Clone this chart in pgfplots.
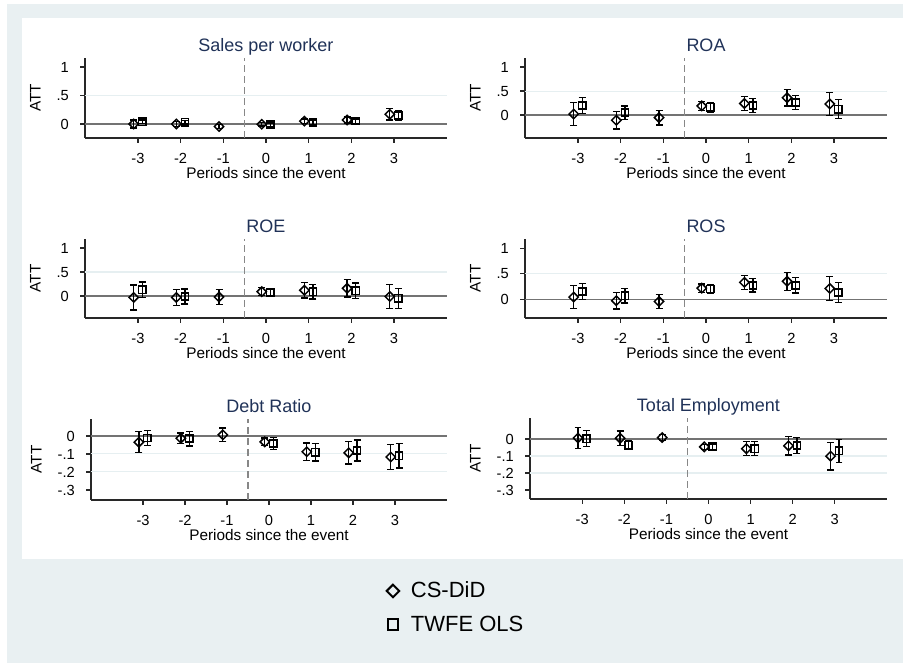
\documentclass[border=0pt]{standalone}
\usepackage{fontspec}
\setmainfont{Liberation Sans}
\usepackage{pgfplots}
\pgfplotsset{compat=1.18}
\definecolor{bgc}{RGB}{233,240,242}
\definecolor{gridc}{RGB}{230,239,241}
\definecolor{titc}{RGB}{32,50,88}
\definecolor{zeroc}{RGB}{115,115,115}
\definecolor{vlc}{RGB}{135,135,135}
\definecolor{axc}{RGB}{40,40,40}

\pgfdeclareplotmark{sdiamond}{%
  \pgfpathmoveto{\pgfqpoint{0pt}{\pgfplotmarksize}}%
  \pgfpathlineto{\pgfqpoint{\pgfplotmarksize}{0pt}}%
  \pgfpathlineto{\pgfqpoint{0pt}{-\pgfplotmarksize}}%
  \pgfpathlineto{\pgfqpoint{-\pgfplotmarksize}{0pt}}%
  \pgfpathclose
  \pgfusepathqstroke
}
\newcommand\ticksz{\fontsize{11}{13}\selectfont}
\newcommand\labsz{\fontsize{11.5}{13}\selectfont}
\newcommand\titsz{\fontsize{13.5}{16}\selectfont}

\pgfplotsset{
  panel/.style={
    scale only axis, anchor=south west,
    xmin=-4.24, xmax=4.24,
    axis lines*=left,
    axis line style={draw=axc, line width=0.9pt},
    tick style={draw=axc, line width=0.9pt},
    tick align=outside, major tick length=3.75pt,
    xtick={-3,-2,-1,0,1,2,3}, xticklabels={-3,-2,-1,0,1,2,3},
    xticklabel style={font=\ticksz, anchor=base, inner sep=0pt, yshift=-15.5pt},
    yticklabel style={font=\ticksz, anchor=east, inner sep=0pt, text height=7.9pt, text depth=0pt, xshift=-8.25pt},
    every axis title/.style={at={(axis description cs:0.5,1)}, anchor=base, yshift=4.9pt, font=\titsz, text=titc},
    every axis x label/.style={at={(axis description cs:0.5,0)}, anchor=base, inner sep=0pt, yshift=-30.4pt, font=\labsz},
    ylabel style={font=\labsz},
    ylabel shift=8.4pt,
    xlabel={Periods since the event}, ylabel={ATT},
    clip=false,
  },
  cs/.style={black, only marks, mark=sdiamond, mark size=3.5pt, mark options={line width=1.1pt, black, solid},
     error bars/.cd, y dir=both, y explicit, error bar style={line width=1pt, black},
     error mark options={rotate=90, mark size=2.6pt, line width=1pt, black}},
  tw/.style={black, only marks, mark=square, mark size=2.7pt, mark options={line width=1.1pt, black, solid},
     error bars/.cd, y dir=both, y explicit, error bar style={line width=1pt, black},
     error mark options={rotate=90, mark size=2.6pt, line width=1pt, black}},
  gl/.style={gridc, line width=0.8pt, forget plot},
  zl/.style={zeroc, line width=0.9pt, forget plot},
  vl/.style={vlc, line width=1pt, dash pattern=on 5.25pt off 3pt, forget plot},
}

\begin{document}
\begin{tikzpicture}
\fill[white] (0pt,0pt) rectangle (677.25pt,497.25pt);
\fill[bgc] (5.25pt,0pt) rectangle (677.25pt,494.25pt);
\fill[white] (16.5pt,78pt) rectangle (677.25pt,483.75pt);

% ---------- Sales per worker ----------
\begin{axis}[panel, at={(63.75pt,393.75pt)}, width=271.5pt, height=60pt,
  ymin=-0.246, ymax=1.158, ytick={0,0.5,1}, yticklabels={0,.5,1}, title={Sales per worker}]
\addplot[gl] coordinates {(-4.24,0.5) (4.24,0.5)};
\addplot[zl] coordinates {(-4.24,0) (4.24,0)};
\addplot[vl] coordinates {(-0.5,-0.246) (-0.5,1.158)};
\addplot[cs] coordinates {
 (-3.1,0.000) +- (0,0.07)
 (-2.1,0.000) +- (0,0.04)
 (-1.1,-0.045) +- (0,0.04)
 (-0.1,-0.005) +- (0,0.03)
 (0.9,0.05) +- (0,0.04)
 (1.9,0.07) +- (0,0.05)
 (2.9,0.17) +- (0,0.10)
};
\addplot[tw] coordinates {
 (-2.9,0.04) +- (0,0.03)
 (-1.9,0.03) +- (0,0.03)
 (0.1,-0.01) +- (0,0.03)
 (1.1,0.025) +- (0,0.035)
 (2.1,0.05) +- (0,0.04)
 (3.1,0.15) +- (0,0.08)
};
\end{axis}

% ---------- ROA ----------
\begin{axis}[panel, at={(393.75pt,393.75pt)}, width=271.5pt, height=60pt,
  ymin=-0.48, ymax=1.19, ytick={0,0.5,1}, yticklabels={0,.5,1}, title={ROA}]
\addplot[gl] coordinates {(-4.24,0.5) (4.24,0.5)};
\addplot[zl] coordinates {(-4.24,0) (4.24,0)};
\addplot[vl] coordinates {(-0.5,-0.48) (-0.5,1.19)};
\addplot[cs] coordinates {
 (-3.1,0.02) +- (0,0.235)
 (-2.1,-0.11) +- (0,0.18)
 (-1.1,-0.055) +- (0,0.155)
 (-0.1,0.19) +- (0,0.095)
 (0.9,0.24) +- (0,0.14)
 (1.9,0.36) +- (0,0.17)
 (2.9,0.23) +- (0,0.24)
};
\addplot[tw] coordinates {
 (-2.9,0.20) +- (0,0.17)
 (-1.9,0.05) +- (0,0.14)
 (0.1,0.16) +- (0,0.10)
 (1.1,0.20) +- (0,0.15)
 (2.1,0.26) +- (0,0.15)
 (3.1,0.12) +- (0,0.20)
};
\end{axis}

% ---------- ROE ----------
\begin{axis}[panel, at={(63.75pt,258.75pt)}, width=271.5pt, height=59.25pt,
  ymin=-0.46, ymax=1.19, ytick={0,0.5,1}, yticklabels={0,.5,1}, title={ROE}]
\addplot[gl] coordinates {(-4.24,0.5) (4.24,0.5)};
\addplot[zl] coordinates {(-4.24,0) (4.24,0)};
\addplot[vl] coordinates {(-0.5,-0.46) (-0.5,1.19)};
\addplot[cs] coordinates {
 (-3.1,-0.03) +- (0,0.26)
 (-2.1,-0.03) +- (0,0.17)
 (-1.1,-0.02) +- (0,0.16)
 (-0.1,0.09) +- (0,0.08)
 (0.9,0.12) +- (0,0.165)
 (1.9,0.16) +- (0,0.185)
 (2.9,-0.01) +- (0,0.25)
};
\addplot[tw] coordinates {
 (-2.9,0.13) +- (0,0.165)
 (-1.9,-0.01) +- (0,0.155)
 (0.1,0.07) +- (0,0.085)
 (1.1,0.09) +- (0,0.15)
 (2.1,0.11) +- (0,0.16)
 (3.1,-0.05) +- (0,0.21)
};
\end{axis}

% ---------- ROS ----------
\begin{axis}[panel, at={(393.75pt,258.75pt)}, width=271.5pt, height=59.25pt,
  ymin=-0.37, ymax=1.18, ytick={0,0.5,1}, yticklabels={0,.5,1}, title={ROS}]
\addplot[gl] coordinates {(-4.24,0.5) (4.24,0.5)};
\addplot[zl] coordinates {(-4.24,0) (4.24,0)};
\addplot[vl] coordinates {(-0.5,-0.37) (-0.5,1.18)};
\addplot[cs] coordinates {
 (-3.1,0.04) +- (0,0.225)
 (-2.1,-0.03) +- (0,0.165)
 (-1.1,-0.045) +- (0,0.135)
 (-0.1,0.215) +- (0,0.085)
 (0.9,0.33) +- (0,0.14)
 (1.9,0.35) +- (0,0.175)
 (2.9,0.21) +- (0,0.235)
};
\addplot[tw] coordinates {
 (-2.9,0.15) +- (0,0.16)
 (-1.9,0.065) +- (0,0.14)
 (0.1,0.20) +- (0,0.09)
 (1.1,0.27) +- (0,0.13)
 (2.1,0.27) +- (0,0.15)
 (3.1,0.13) +- (0,0.195)
};
\end{axis}

% ---------- Debt Ratio ----------
\begin{axis}[panel, at={(68.25pt,122.25pt)}, width=267pt, height=60.75pt,
  ymin=-0.356, ymax=0.094, ytick={-0.3,-0.2,-0.1,0}, yticklabels={-.3,-.2,-.1,0}, title={Debt Ratio}]
\addplot[gl] coordinates {(-4.24,-0.1) (4.24,-0.1)};
\addplot[gl] coordinates {(-4.24,-0.2) (4.24,-0.2)};
\addplot[zl] coordinates {(-4.24,0) (4.24,0)};
\addplot[vl] coordinates {(-0.5,-0.356) (-0.5,0.094)};
\addplot[cs] coordinates {
 (-3.1,-0.035) +- (0,0.058)
 (-2.1,-0.013) +- (0,0.030)
 (-1.1,0.006) +- (0,0.038)
 (-0.1,-0.033) +- (0,0.022)
 (0.9,-0.088) +- (0,0.049)
 (1.9,-0.094) +- (0,0.062)
 (2.9,-0.117) +- (0,0.071)
};
\addplot[tw] coordinates {
 (-2.9,-0.012) +- (0,0.043)
 (-1.9,-0.015) +- (0,0.041)
 (0.1,-0.042) +- (0,0.032)
 (1.1,-0.091) +- (0,0.048)
 (2.1,-0.081) +- (0,0.058)
 (3.1,-0.110) +- (0,0.068)
};
\end{axis}

% ---------- Total Employment ----------
\begin{axis}[panel, at={(397.5pt,123pt)}, width=267.75pt, height=60.75pt,
  ymin=-0.353, ymax=0.124, ytick={-0.3,-0.2,-0.1,0}, yticklabels={-.3,-.2,-.1,0}, title={Total Employment}]
\addplot[gl] coordinates {(-4.24,-0.1) (4.24,-0.1)};
\addplot[gl] coordinates {(-4.24,-0.2) (4.24,-0.2)};
\addplot[zl] coordinates {(-4.24,0) (4.24,0)};
\addplot[vl] coordinates {(-0.5,-0.353) (-0.5,0.124)};
\addplot[cs] coordinates {
 (-3.1,0.006) +- (0,0.061)
 (-2.1,0.005) +- (0,0.042)
 (-1.1,0.009) +- (0,0.018)
 (-0.1,-0.046) +- (0,0.015)
 (0.9,-0.057) +- (0,0.041)
 (1.9,-0.040) +- (0,0.054)
 (2.9,-0.101) +- (0,0.081)
};
\addplot[tw] coordinates {
 (-2.9,0.002) +- (0,0.047)
 (-1.9,-0.037) +- (0,0.025)
 (0.1,-0.045) +- (0,0.016)
 (1.1,-0.057) +- (0,0.041)
 (2.1,-0.038) +- (0,0.049)
 (3.1,-0.069) +- (0,0.068)
};
\end{axis}

% ---------- Legend ----------
\begin{axis}[at={(290pt,60.75pt)}, anchor=center, scale only axis, width=2pt, height=2pt,
  hide axis, xmin=0, xmax=1, ymin=0, ymax=1,
  legend style={at={(0.5,0.5)}, anchor=north west, draw=none, fill=none, inner sep=0pt, outer sep=0pt,
    font=\fontsize{16.5}{18}\selectfont, row sep=12.1pt, column sep=8.8pt, nodes={inner sep=0pt}},
  legend cell align=left,
  legend image code/.code={\draw[#1] plot coordinates {(0pt,0pt)};}]
\addlegendimage{only marks, mark=sdiamond, mark size=4.7pt, mark options={line width=1.5pt, black}}
\addlegendentry{CS-DiD}
\addlegendimage{only marks, mark=square, mark size=4pt, mark options={line width=1.5pt, black}}
\addlegendentry{TWFE OLS}
\end{axis}
\end{tikzpicture}
\end{document}
